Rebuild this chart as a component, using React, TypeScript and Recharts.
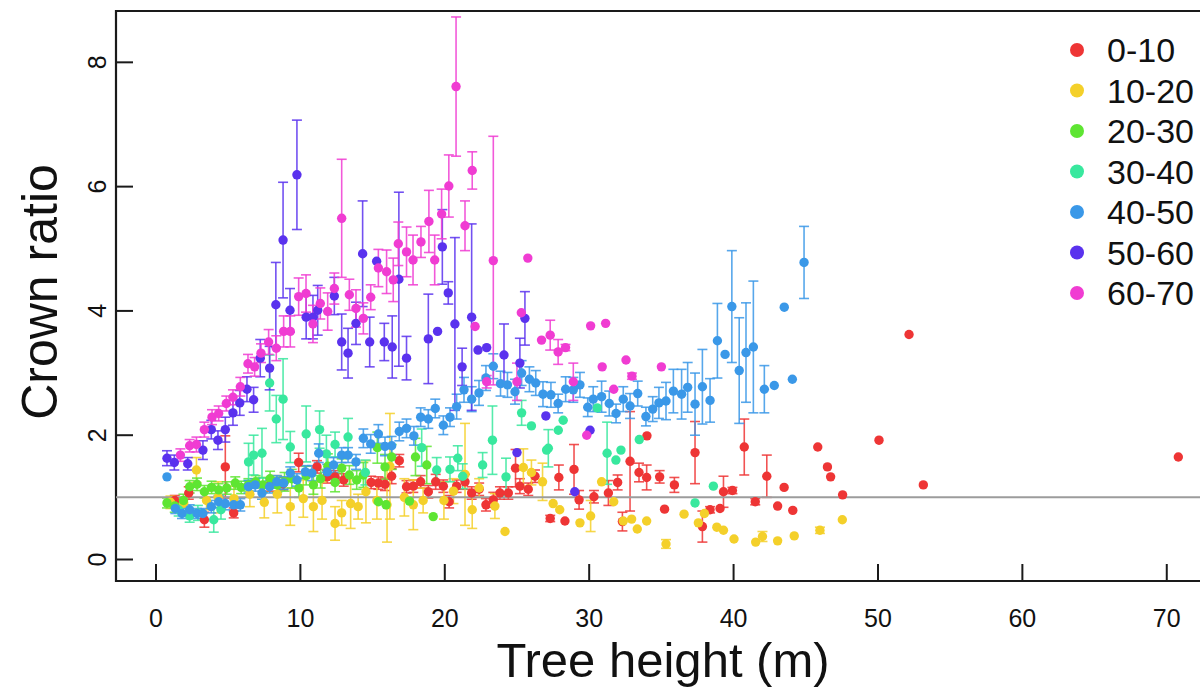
import React from 'react';
import {
  ScatterChart, Scatter, XAxis, YAxis, ErrorBar, ReferenceLine, ReferenceArea, Legend, Label,
} from 'recharts';

// [tree height (m), crown ratio, ± error]
type Row = [number, number, number?];

const FONT = '"Liberation Sans", Arial, Helvetica, sans-serif';

const CHART_W = 1260;
const CHART_H = 692;
const PLOT_LEFT = 116;
const PLOT_TOP = 11;
const PLOT_RIGHT = 1215;
const PLOT_BOTTOM = 581;

const X_TICKS = [0, 10, 20, 30, 40, 50, 60, 70];
const Y_TICKS = [0, 2, 4, 6, 8];
const X_DOMAIN: [number, number] = [-2.77, 73.34];
const Y_DOMAIN: [number, number] = [-0.346, 8.826];

const classLabels = ['0-10', '10-20', '20-30', '30-40', '40-50', '50-60', '60-70'];
const classColors = ['#EE3535', '#F4D02A', '#5EE532', '#38E89E', '#3A98E8', '#5A32EE', '#F03CD2'];

const ratio0_10: Row[] = [
  [1.3, 0.95, 0.08], [2.27, 1.07, 0.1], [3.35, 0.64, 0.12], [4.8, 1.49, 0.5], [5.38, 0.75, 0.08],
  [7.9, 1.2, 0.1], [8.8, 1.22, 0.1], [9.88, 1.56, 0.15], [11.15, 1.49, 0.1], [11.84, 1.33, 0.1],
  [12.4, 1.33, 0.1], [13.0, 1.28, 0.1], [14.9, 1.24, 0.1], [15.4, 1.23, 0.1], [15.86, 1.21, 0.1],
  [16.32, 1.34, 0.12], [16.85, 1.59, 0.1], [17.35, 1.17, 0.1], [17.82, 1.18, 0.1], [18.33, 1.25, 0.1],
  [18.86, 1.09, 0.1], [19.37, 1.25, 0.12], [19.9, 1.18, 0.1], [20.3, 0.93, 0.1], [20.82, 1.18, 0.1],
  [21.4, 1.25, 0.12], [21.86, 1.07, 0.1], [22.38, 1.13, 0.1], [22.85, 0.88, 0.1], [23.36, 0.96, 0.12],
  [23.82, 1.07, 0.1], [24.4, 1.07, 0.1], [24.9, 1.47, 0.3], [25.2, 1.18, 0.12], [25.78, 1.13, 0.1],
  [26.25, 1.34, 0.1], [27.3, 0.66, 0.05], [27.9, 1.32, 0.2], [28.32, 0.62], [28.95, 1.45, 0.4],
  [29.3, 0.96, 0.15], [30.33, 1.01, 0.1], [31.33, 1.07, 0.2], [31.97, 1.24, 0.12], [32.3, 0.61, 0.15],
  [32.83, 1.58, 0.8], [33.45, 1.4, 0.15], [33.98, 1.32, 0.2], [34.0, 1.99], [34.88, 1.33, 0.1],
  [35.22, 0.81], [35.9, 1.2, 0.12], [37.33, 1.72, 0.5], [37.84, 0.53, 0.25], [38.37, 0.8, 0.05],
  [39.06, 0.82], [39.3, 1.09, 0.25], [39.92, 1.11, 0.05], [40.74, 1.81, 0.45], [41.5, 0.93, 0.05],
  [42.3, 1.34, 0.34], [43.05, 0.86], [43.5, 1.16], [44.1, 0.79], [45.83, 1.81], [46.5, 1.49],
  [46.72, 1.33], [47.55, 1.04], [50.07, 1.92], [52.15, 3.62], [53.14, 1.2], [70.8, 1.65],
];

const ratio10_20: Row[] = [
  [1.0, 0.92, 0.1], [1.92, 0.91, 0.08], [2.8, 1.44, 0.2], [3.5, 0.95, 0.15], [4.3, 1.0, 0.25],
  [5.4, 0.98, 0.2], [6.5, 1.05, 0.2], [7.5, 0.92, 0.25], [8.4, 1.05, 0.3], [9.3, 0.85, 0.3],
  [10.2, 0.98, 0.3], [10.9, 0.85, 0.4], [11.5, 0.95, 0.3], [12.4, 0.58, 0.27], [12.86, 0.75, 0.2],
  [13.48, 0.9, 0.4], [14.0, 0.85, 0.2], [14.54, 1.09, 0.5], [15.3, 0.95, 0.3], [16.0, 0.88, 0.6],
  [16.2, 1.5, 0.85], [17.2, 1.0, 0.3], [17.82, 0.88, 0.4], [18.5, 0.95, 0.2], [19.94, 0.95, 0.3],
  [20.6, 1.1, 0.2], [21.4, 1.37, 0.82], [21.9, 0.8, 0.3], [22.38, 1.15, 0.15], [23.47, 0.86, 0.2],
  [24.17, 0.45], [25.44, 1.48, 0.3], [26.0, 1.4, 0.2], [26.77, 1.25, 0.3], [27.5, 0.9], [27.96, 0.8],
  [29.36, 0.59], [30.1, 0.7, 0.25], [30.86, 1.25], [31.7, 0.93], [32.36, 0.62], [32.94, 0.65],
  [33.33, 0.49], [33.98, 0.62], [35.32, 0.25, 0.07], [36.57, 0.73], [37.56, 0.59], [37.98, 0.74],
  [38.84, 0.52], [39.3, 0.47], [40.03, 0.33], [41.53, 0.28], [42.0, 0.37, 0.08], [43.05, 0.3],
  [44.2, 0.38], [45.98, 0.47, 0.05], [47.53, 0.64],
];

const ratio20_30: Row[] = [
  [0.76, 0.91, 0.08], [1.3, 0.86, 0.1], [1.9, 0.95, 0.1], [2.33, 1.17, 0.1], [2.84, 1.21, 0.1],
  [3.35, 1.09, 0.1], [3.85, 1.16, 0.1], [4.34, 1.12, 0.1], [4.9, 1.15, 0.1], [5.49, 1.23, 0.1],
  [5.9, 1.16, 0.1], [6.4, 1.2, 0.1], [6.9, 1.25, 0.1], [7.4, 1.2, 0.12], [7.9, 1.3, 0.12],
  [8.4, 1.2, 0.12], [8.9, 1.25, 0.15], [9.4, 1.3, 0.15], [9.9, 1.15, 0.15], [10.4, 1.35, 0.15],
  [10.9, 1.2, 0.15], [11.4, 1.3, 0.15], [11.9, 1.5, 0.2], [12.4, 1.24, 0.15], [12.86, 1.47, 0.15],
  [13.39, 1.36, 0.15], [13.9, 1.28, 0.15], [14.36, 1.36, 0.2], [15.33, 1.8, 0.25], [15.4, 0.93],
  [15.86, 1.49, 0.2], [15.93, 0.88], [16.32, 1.65, 0.2], [17.55, 0.94], [17.97, 1.65, 0.3],
  [18.75, 1.52, 0.3], [19.2, 0.69],
];

const ratio30_40: Row[] = [
  [1.57, 0.8, 0.1], [2.33, 0.7, 0.1], [2.9, 0.75, 0.12], [4.0, 0.64, 0.2], [4.5, 0.8, 0.15],
  [6.41, 1.57, 0.3], [6.76, 1.68, 0.32], [7.34, 1.71, 0.4], [7.87, 2.84, 0.45], [8.33, 2.26, 0.38],
  [8.8, 2.58, 0.65], [9.3, 1.81, 0.25], [10.4, 2.02, 0.45], [11.33, 2.09, 0.3], [11.8, 1.7, 0.3],
  [12.4, 1.85, 0.2], [13.3, 1.97, 0.3], [14.5, 1.4, 0.2], [18.4, 1.8, 0.3], [19.44, 1.44, 0.2],
  [20.36, 1.45, 0.2], [20.9, 1.63, 0.2], [21.24, 1.34, 0.2], [22.62, 1.52, 0.2], [23.3, 1.92, 0.55],
  [24.24, 1.33, 0.3], [25.32, 2.36, 0.2], [26.0, 2.15], [27.05, 1.76], [27.17, 1.79, 0.3],
  [27.86, 2.08], [28.2, 2.24], [30.56, 2.44], [31.24, 1.71, 0.5], [31.85, 1.6], [32.2, 1.76],
  [33.47, 1.93], [37.33, 0.91], [38.6, 1.18],
];

const ratio40_50: Row[] = [
  [0.76, 1.33], [1.34, 0.82, 0.08], [1.8, 0.74, 0.08], [2.33, 0.8, 0.08], [2.84, 0.74, 0.08],
  [3.25, 0.74, 0.08], [3.83, 0.85, 0.1], [4.34, 0.93, 0.1], [4.8, 0.9, 0.1], [5.38, 0.88, 0.1],
  [5.84, 0.88, 0.1], [6.41, 1.17, 0.1], [6.87, 1.2, 0.1], [7.34, 1.07, 0.1], [7.87, 1.17, 0.1],
  [8.37, 1.25, 0.1], [8.84, 1.23, 0.1], [9.3, 1.39, 0.1], [9.76, 1.28, 0.1], [10.34, 1.41, 0.1],
  [10.8, 1.39, 0.12], [11.27, 1.71, 0.15], [11.86, 1.41, 0.12], [12.3, 1.52, 0.12], [12.86, 1.68, 0.12],
  [13.3, 1.68, 0.12], [13.85, 1.57, 0.12], [14.36, 1.95, 0.15], [14.87, 1.86, 0.15], [15.4, 2.02, 0.15],
  [15.86, 1.82, 0.15], [16.32, 1.83, 0.15], [16.85, 2.06, 0.15], [17.35, 2.11, 0.15], [17.86, 1.99, 0.15],
  [18.33, 2.29, 0.15], [18.86, 2.26, 0.15], [19.34, 2.43, 0.15], [19.9, 2.16, 0.15], [20.36, 2.29, 0.15],
  [20.82, 2.46, 0.2], [21.33, 2.73, 0.2], [21.86, 2.58, 0.2], [22.37, 2.68, 0.2], [22.85, 2.92, 0.2],
  [23.36, 3.11, 0.2], [23.86, 2.83, 0.2], [24.34, 2.81, 0.2], [24.86, 2.7, 0.2], [25.32, 3.0, 0.2],
  [25.86, 2.9, 0.2], [26.3, 2.84, 0.2], [26.8, 2.66, 0.2], [27.35, 2.65, 0.2], [27.85, 2.51, 0.15],
  [28.37, 2.74, 0.2], [28.9, 2.73, 0.2], [29.36, 2.81, 0.2], [29.9, 2.45, 0.15], [30.28, 2.58, 0.2],
  [30.86, 2.62, 0.25], [31.39, 2.51, 0.2], [31.86, 2.35, 0.15], [32.36, 2.58, 0.2], [32.83, 2.47, 0.2],
  [33.36, 2.67, 0.2], [33.93, 2.3, 0.15], [34.4, 2.42, 0.2], [34.83, 2.52, 0.25], [35.32, 2.55, 0.3],
  [35.83, 2.71, 0.35], [36.4, 2.66, 0.4], [36.82, 2.77, 0.4], [37.33, 2.5, 0.5], [37.84, 2.78, 0.6],
  [38.37, 2.56, 0.35], [38.88, 3.52, 0.6], [39.41, 3.3], [39.88, 4.07, 0.9], [40.39, 3.04, 0.85],
  [40.86, 3.33, 0.8], [41.37, 3.42, 1.06], [42.13, 2.74, 0.38], [42.82, 2.8], [43.51, 4.06],
  [44.07, 2.9], [44.88, 4.78, 0.58],
];

const ratio50_60: Row[] = [
  [0.76, 1.63, 0.12], [1.27, 1.56, 0.12], [2.2, 1.54, 0.1], [3.25, 1.76, 0.15], [3.83, 2.09, 0.15],
  [4.29, 1.92, 0.15], [4.8, 2.09, 0.2], [5.33, 2.36, 0.2], [5.8, 2.52, 0.2], [6.3, 2.74, 0.2],
  [6.76, 2.57, 0.2], [7.22, 3.24, 0.3], [7.87, 3.08, 0.35], [8.3, 4.1, 0.68], [8.8, 5.14, 0.93],
  [9.28, 4.01, 0.35], [9.76, 6.19, 0.88], [10.4, 3.9, 0.35], [10.87, 3.9, 0.35], [11.2, 4.01, 0.4],
  [12.35, 4.24, 0.3], [12.86, 3.5, 0.45], [13.3, 3.32, 0.4], [13.85, 3.8, 0.34], [14.31, 4.92, 0.85],
  [14.8, 3.5, 0.4], [15.28, 4.8], [15.81, 3.5, 0.3], [16.36, 3.42, 0.5], [16.82, 4.51, 1.4],
  [17.35, 3.24, 0.35], [18.86, 3.55, 0.72], [19.5, 3.67], [19.83, 5.03, 0.6], [20.24, 4.29, 0.18],
  [20.7, 3.79, 1.39], [21.2, 3.1, 0.3], [21.86, 3.9, 1.5], [22.3, 3.37], [22.9, 3.41],
  [24.1, 3.29, 0.5], [25.0, 1.72], [25.2, 3.16, 0.4], [25.55, 3.88, 0.43], [27.0, 2.31],
  [29.0, 1.09], [30.06, 2.08],
];

const ratio60_70: Row[] = [
  [1.69, 1.68, 0.1], [2.33, 1.83, 0.1], [2.8, 1.85, 0.12], [3.35, 2.09, 0.12], [3.88, 2.29, 0.12],
  [4.34, 2.35, 0.12], [4.87, 2.51, 0.12], [5.33, 2.61, 0.12], [5.84, 2.78, 0.15], [6.37, 3.15, 0.15],
  [6.83, 3.1, 0.15], [7.27, 3.32, 0.15], [7.8, 3.5, 0.2], [8.33, 3.4, 0.2], [8.84, 3.67, 0.25],
  [9.3, 3.67, 0.25], [9.88, 4.23, 0.3], [10.39, 4.28, 0.3], [10.87, 3.79, 0.3], [11.38, 4.12, 0.25],
  [11.89, 3.99, 0.3], [12.35, 4.36, 0.25], [12.86, 5.49, 0.95], [13.39, 4.26, 0.25], [13.85, 4.04, 0.3],
  [14.36, 3.88, 0.25], [14.87, 4.22, 0.2], [15.4, 4.69, 0.3], [15.97, 4.63, 0.35], [16.43, 4.5, 0.35],
  [16.78, 5.08, 0.35], [17.35, 4.95, 0.4], [17.8, 4.82, 0.4], [18.35, 5.11, 0.25], [18.9, 5.44, 0.5],
  [19.3, 4.82, 0.4], [19.78, 5.56, 0.4], [20.28, 6.01, 0.5], [20.78, 7.61, 1.12], [21.4, 5.37, 0.4],
  [21.9, 6.26, 0.3], [22.1, 3.75], [22.9, 2.86, 0.1], [23.36, 4.81, 2.0], [25.0, 2.86, 0.3],
  [25.3, 3.97], [25.75, 4.85], [26.7, 3.53], [27.3, 3.61, 0.24], [27.85, 3.34, 0.2],
  [28.36, 3.41, 0.05], [28.9, 2.86, 0.3], [29.83, 2.0], [30.1, 3.76], [30.9, 3.1], [31.14, 3.8],
  [31.7, 2.74], [32.55, 3.21], [32.96, 2.95, 0.05], [35.0, 3.1],
];

const classRows = [ratio0_10, ratio10_20, ratio20_30, ratio30_40, ratio40_50, ratio50_60, ratio60_70];

const toPoints = (rows: Row[]) => rows.map(([h, r, e]) => ({ h, r, e }));

const dotShape = (color: string) => (props: any) => (
  <circle cx={props.cx} cy={props.cy} r={4.7} fill={color} />
);

function XTick({ x, payload }: any) {
  return (
    <g>
      <line x1={x} y1={PLOT_BOTTOM} x2={x} y2={PLOT_BOTTOM - 17} stroke="#1a1a1a" strokeWidth={2} />
      <text x={x} y={PLOT_BOTTOM + 46} textAnchor="middle" fontSize={25} fontFamily={FONT} fill="#111">
        {payload.value}
      </text>
    </g>
  );
}

function YTick({ y, payload }: any) {
  const tx = PLOT_LEFT - 10;
  return (
    <g>
      <line x1={PLOT_LEFT} y1={y} x2={PLOT_LEFT + 17} y2={y} stroke="#1a1a1a" strokeWidth={2} />
      <text
        x={tx} y={y} transform={`rotate(-90 ${tx} ${y})`}
        textAnchor="middle" fontSize={25} fontFamily={FONT} fill="#111"
      >
        {payload.value}
      </text>
    </g>
  );
}

function ClassLegend() {
  return (
    <svg width={140} height={300}>
      {classLabels.map((label, i) => {
        const cy = 22 + i * 40.5;
        return (
          <g key={label}>
            <circle cx={17} cy={cy} r={7} fill={classColors[i]} />
            <text x={47} y={cy + 12} fontSize={34} fontFamily={FONT} fill="#111">{label}</text>
          </g>
        );
      })}
    </svg>
  );
}

export default function App() {
  return (
    <div style={{ position: 'absolute', left: 0, top: 0, width: 1200, height: 692, overflow: 'hidden', background: '#fff' }}>
      <ScatterChart
        width={CHART_W}
        height={CHART_H}
        margin={{ left: PLOT_LEFT - 1, top: PLOT_TOP, right: CHART_W - PLOT_RIGHT, bottom: CHART_H - PLOT_BOTTOM - 1 }}
      >
        <XAxis
          type="number" dataKey="h" domain={X_DOMAIN} ticks={X_TICKS} interval={0}
          allowDataOverflow axisLine={false} tickLine={false} height={1} tick={<XTick />}
        >
          <Label
            content={() => (
              <text x={663} y={677} textAnchor="middle" fontSize={49} fontFamily={FONT} fill="#111">
                Tree height (m)
              </text>
            )}
          />
        </XAxis>
        <YAxis
          type="number" dataKey="r" domain={Y_DOMAIN} ticks={Y_TICKS} interval={0}
          allowDataOverflow axisLine={false} tickLine={false} width={1} tick={<YTick />}
        >
          <Label
            content={() => (
              <text
                x={57} y={292} transform="rotate(-90 57 292)"
                textAnchor="middle" fontSize={50} fontFamily={FONT} fill="#111"
              >
                Crown ratio
              </text>
            )}
          />
        </YAxis>

        {classRows.map((rows, i) => (
          <Scatter
            key={classLabels[i]}
            name={classLabels[i]}
            data={toPoints(rows)}
            fill={classColors[i]}
            shape={dotShape(classColors[i])}
            isAnimationActive={false}
          >
            <ErrorBar
              dataKey="e" direction="y" width={5}
              stroke={classColors[i]} strokeWidth={1.6} strokeOpacity={0.85}
              isAnimationActive={false}
            />
          </Scatter>
        ))}

        <ReferenceLine y={1} stroke="#9c9c9c" strokeWidth={2} />
        <ReferenceArea
          x1={X_DOMAIN[0]} x2={X_DOMAIN[1]} y1={Y_DOMAIN[0]} y2={Y_DOMAIN[1]}
          fill="none" fillOpacity={0} stroke="#1a1a1a" strokeWidth={2.2}
        />

        <Legend
          layout="vertical" align="center" verticalAlign="middle"
          wrapperStyle={{ position: 'absolute', left: 1060, top: 28, width: 140 }}
          content={() => <ClassLegend />}
        />
      </ScatterChart>
    </div>
  );
}
